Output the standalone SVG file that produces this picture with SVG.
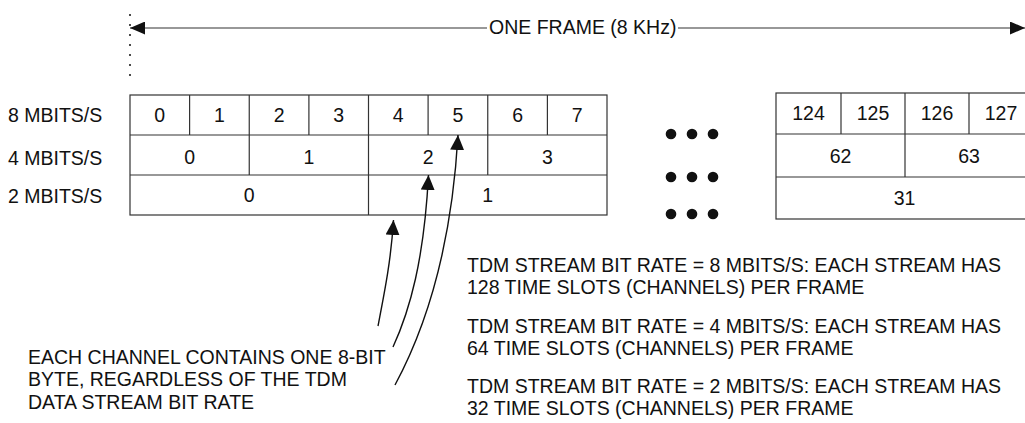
<svg xmlns="http://www.w3.org/2000/svg" width="1025" height="423" viewBox="0 0 1025 423">
  <style>
    text { font-family: "Liberation Sans", Arial, sans-serif; font-size: 19.5px; fill: #111; }
    .c { text-anchor: middle; }
    .cell { fill: none; stroke: #333; stroke-width: 1.2; }
    .ln { stroke: #333; stroke-width: 1.2; fill: none; }
    .conn { stroke: #111; stroke-width: 1.4; fill: none; }
    .dot { fill: #111; }
  </style>
  <defs>
    <marker id="ah" markerUnits="userSpaceOnUse" markerWidth="15" markerHeight="14" refX="15" refY="7" orient="auto">
      <path d="M0,0 L15,7 L0,14 z" fill="#111"/>
    </marker>
    <marker id="ahs" markerUnits="userSpaceOnUse" markerWidth="15" markerHeight="13" refX="15" refY="6.5" orient="auto-start-reverse">
      <path d="M0,0 L15,6.5 L0,13 z" fill="#111"/>
    </marker>
  </defs>

  <g id="frame-dimension">
    <line x1="130" y1="14" x2="130" y2="80" stroke="#111" stroke-width="1.5" stroke-dasharray="2 8"/>
    <line x1="130" y1="28" x2="487" y2="28" class="ln" marker-start="url(#ahs)"/>
    <text x="489" y="34">ONE FRAME (8 KHz)</text>
    <line x1="678" y1="28" x2="1025" y2="28" class="ln" marker-end="url(#ahs)"/>
  </g>

  <g id="row-labels">
    <text x="8" y="122">8 MBITS/S</text>
    <text x="8" y="165">4 MBITS/S</text>
    <text x="8" y="203">2 MBITS/S</text>
  </g>

  <g id="grid-left">
    <rect class="cell" x="130" y="95" width="477" height="120"/>
    <line class="ln" x1="130" y1="135" x2="607" y2="135"/>
    <line class="ln" x1="130" y1="175" x2="607" y2="175"/>
    <line class="ln" x1="189.6" y1="95" x2="189.6" y2="135"/>
    <line class="ln" x1="249.25" y1="95" x2="249.25" y2="175"/>
    <line class="ln" x1="308.9" y1="95" x2="308.9" y2="135"/>
    <line class="ln" x1="368.5" y1="95" x2="368.5" y2="215"/>
    <line class="ln" x1="428.1" y1="95" x2="428.1" y2="135"/>
    <line class="ln" x1="487.75" y1="95" x2="487.75" y2="175"/>
    <line class="ln" x1="547.4" y1="95" x2="547.4" y2="135"/>
    <text class="c" x="159.8" y="122">0</text>
    <text class="c" x="219.4" y="122">1</text>
    <text class="c" x="279.1" y="122">2</text>
    <text class="c" x="338.7" y="122">3</text>
    <text class="c" x="398.3" y="122">4</text>
    <text class="c" x="457.9" y="122">5</text>
    <text class="c" x="517.6" y="122">6</text>
    <text class="c" x="577.2" y="122">7</text>
    <text class="c" x="189.6" y="164">0</text>
    <text class="c" x="308.9" y="164">1</text>
    <text class="c" x="428.1" y="164">2</text>
    <text class="c" x="547.4" y="164">3</text>
    <text class="c" x="249.25" y="202">0</text>
    <text class="c" x="487.75" y="202">1</text>
  </g>

  <g id="ellipsis">
    <circle class="dot" cx="671" cy="134" r="5.3"/>
    <circle class="dot" cx="692" cy="134" r="5.3"/>
    <circle class="dot" cx="713" cy="134" r="5.3"/>
    <circle class="dot" cx="671" cy="177" r="5.3"/>
    <circle class="dot" cx="692" cy="177" r="5.3"/>
    <circle class="dot" cx="713" cy="177" r="5.3"/>
    <circle class="dot" cx="671" cy="214" r="5.3"/>
    <circle class="dot" cx="692" cy="214" r="5.3"/>
    <circle class="dot" cx="713" cy="214" r="5.3"/>
  </g>

  <g id="grid-right">
    <rect class="cell" x="776" y="93" width="258" height="126"/>
    <line class="ln" x1="776" y1="134" x2="1025" y2="134"/>
    <line class="ln" x1="776" y1="177" x2="1025" y2="177"/>
    <line class="ln" x1="841" y1="93" x2="841" y2="134"/>
    <line class="ln" x1="905" y1="93" x2="905" y2="177"/>
    <line class="ln" x1="969" y1="93" x2="969" y2="134"/>
    <text class="c" x="808.5" y="120">124</text>
    <text class="c" x="873" y="120">125</text>
    <text class="c" x="937" y="120">126</text>
    <text class="c" x="1001" y="120">127</text>
    <text class="c" x="840.5" y="163">62</text>
    <text class="c" x="969" y="163">63</text>
    <text class="c" x="904.5" y="205">31</text>
  </g>

  <g id="connectors">
    <path class="conn" d="M378,326 C385,290 391,260 393.5,220" marker-end="url(#ah)"/>
    <path class="conn" d="M393,347 C410,310 424,260 428.5,175" marker-end="url(#ah)"/>
    <path class="conn" d="M395,385 C430,320 452,240 458,135" marker-end="url(#ah)"/>
  </g>

  <g id="note-channel">
    <text x="28" y="364">EACH CHANNEL CONTAINS ONE 8-BIT</text>
    <text x="28" y="386">BYTE, REGARDLESS OF THE TDM</text>
    <text x="28" y="409">DATA STREAM BIT RATE</text>
  </g>

  <g id="note-rates">
    <text x="467" y="272">TDM STREAM BIT RATE = 8 MBITS/S: EACH STREAM HAS</text>
    <text x="467" y="294">128 TIME SLOTS (CHANNELS) PER FRAME</text>
    <text x="467" y="333">TDM STREAM BIT RATE = 4 MBITS/S: EACH STREAM HAS</text>
    <text x="467" y="355">64 TIME SLOTS (CHANNELS) PER FRAME</text>
    <text x="467" y="393">TDM STREAM BIT RATE = 2 MBITS/S: EACH STREAM HAS</text>
    <text x="467" y="415">32 TIME SLOTS (CHANNELS) PER FRAME</text>
  </g>
</svg>
